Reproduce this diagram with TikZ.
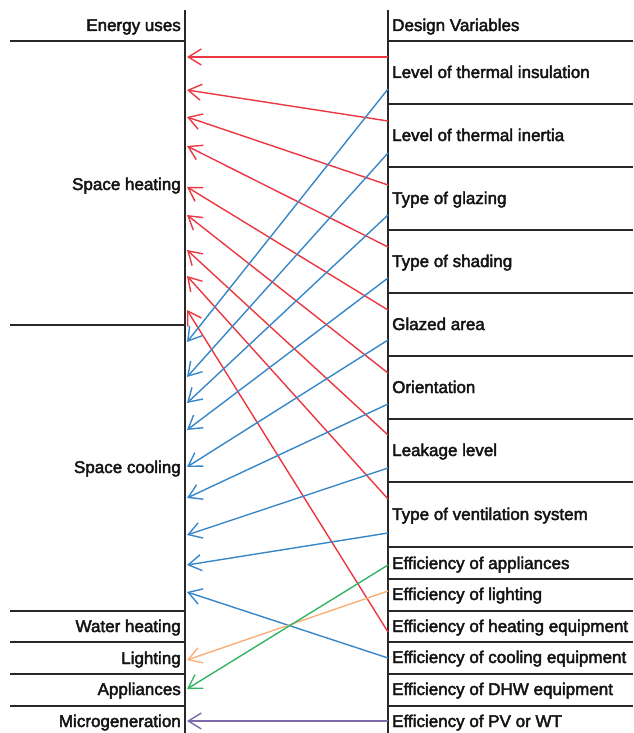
\documentclass[tikz,border=0pt]{standalone}
\usepackage{fontspec}
\setmainfont{Liberation Sans}
\newfontfamily\labfont[FakeBold=2.6]{Liberation Sans}
\usetikzlibrary{arrows.meta}
\definecolor{cred}{RGB}{235,55,65}
\definecolor{cblue}{RGB}{55,135,200}
\definecolor{corange}{RGB}{250,175,120}
\definecolor{cgreen}{RGB}{50,180,100}
\definecolor{cpurple}{RGB}{125,105,170}
\tikzset{
  frame/.style={line width=1.7pt, draw={rgb,255:red,40;green,40;blue,40}},
  rlabel/.style={anchor=base west, inner sep=0pt, text={rgb,255:red,20;green,20;blue,20}, font=\labfont\fontsize{17}{20}\selectfont},
  llabel/.style={anchor=base east, inner sep=0pt, text={rgb,255:red,20;green,20;blue,20}, font=\labfont\fontsize{17}{20}\selectfont},
  conn/.style={line width=1.4pt, -{Straight Barb[length=13pt,width=16pt,line width=1.4pt]}},
}
\begin{document}
\begin{tikzpicture}[x=1pt,y=-1pt]
\useasboundingbox (0,0) rectangle (633,733);
% frame lines
\draw[frame] (185,10) -- (185,733);
\draw[frame] (388,10) -- (388,733);
\foreach \y in {41,325,611,642,674,706} \draw[frame] (10,\y) -- (185,\y);
\foreach \y in {41,104,167,230,293,356,419,482,547,579,611,642,674,706} \draw[frame] (388,\y) -- (633,\y);
% labels
\node[llabel] (eu) at (181,31) {Energy uses};
\node[rlabel] (dv) at (392,31) {Design Variables};
\node[llabel] (sh) at (181,190) {Space heating};
\node[llabel] (sc) at (181,473) {Space cooling};
\node[llabel] (wh) at (181,632) {Water heating};
\node[llabel] (li) at (181,664) {Lighting};
\node[llabel] (ap) at (181,695) {Appliances};
\node[llabel] (mg) at (181,727) {Microgeneration};
\node[rlabel] (r1) at (392,78) {Level of thermal insulation};
\node[rlabel] (r2) at (392,141) {Level of thermal inertia};
\node[rlabel] (r3) at (392,204) {Type of glazing};
\node[rlabel] (r4) at (392,267) {Type of shading};
\node[rlabel] (r5) at (392,330) {Glazed area};
\node[rlabel] (r6) at (392,393) {Orientation};
\node[rlabel] (r7) at (392,456) {Leakage level};
\node[rlabel] (r8) at (392,520) {Type of ventilation system};
\node[rlabel] (r9) at (392,569) {Efficiency of appliances};
\node[rlabel] (r10) at (392,600) {Efficiency of lighting};
\node[rlabel] (r11) at (392,632) {Efficiency of heating equipment};
\node[rlabel] (r12) at (392,663) {Efficiency of cooling equipment};
\node[rlabel] (r13) at (392,695) {Efficiency of DHW equipment};
\node[rlabel] (r14) at (392,727) {Efficiency of PV or WT};
% red connectors
\foreach \i/\s/\t in {1/57/57,2/121/90,3/185/117,4/247/146,5/310/187,6/373/215,7/435/250,8/499/276,9/632/310}{
  \coordinate (rs\i) at (388,\s);
  \coordinate (rt\i) at (187,\t);
  \draw[conn, cred] (rs\i) -- (rt\i);
}
% blue connectors
\foreach \i/\s/\t in {1/89/342,2/153/377,3/215/403,4/278/430,5/340/467,6/404/498,7/468/535,8/533/565,9/658/592}{
  \coordinate (bs\i) at (388,\s);
  \coordinate (bt\i) at (187,\t);
  \draw[conn, cblue] (bs\i) -- (bt\i);
}
% other connectors
\coordinate (os) at (388,591); \coordinate (ot) at (187,660);
\draw[conn, corange] (os) -- (ot);
\coordinate (gs) at (388,565); \coordinate (gt) at (187,689);
\draw[conn, cgreen] (gs) -- (gt);
\coordinate (ps) at (388,721); \coordinate (pt) at (187,721);
\draw[conn, cpurple] (ps) -- (pt);
\end{tikzpicture}
\end{document}
